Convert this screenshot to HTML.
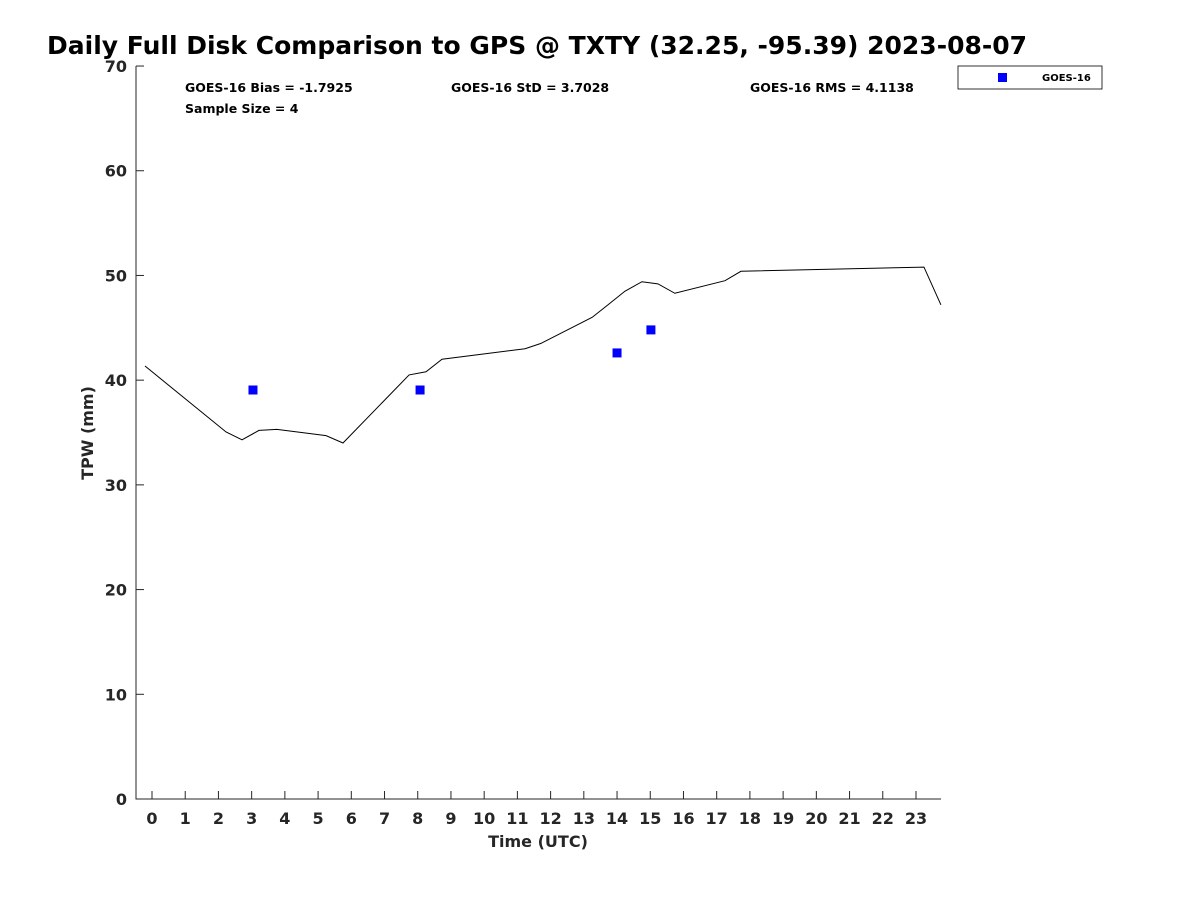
<!DOCTYPE html>
<html><head><meta charset="utf-8"><style>
body{margin:0;background:#fff;font-family:"Liberation Sans","DejaVu Sans",sans-serif}
svg text{font-family:"DejaVu Sans","Liberation Sans",sans-serif}
</style></head><body>
<svg id="chart" width="1200" height="900">
<text x="47" y="54" font-size="25" font-weight="bold">Daily Full Disk Comparison to GPS @ TXTY (32.25, -95.39) 2023-08-07</text>
<g id="axes"></g>
<g id="stats" font-size="12.5" font-weight="bold">
<text x="185" y="92">GOES-16 Bias = -1.7925</text>
<text x="451" y="92">GOES-16 StD = 3.7028</text>
<text x="750" y="92">GOES-16 RMS = 4.1138</text>
<text x="185" y="113">Sample Size = 4</text>
</g>
<g>
<rect x="958" y="66" width="144" height="23" fill="#fff" stroke="#000" stroke-width="0.8"/>
<rect x="998" y="73" width="9" height="9" fill="#0000ff"/>
<text x="1042" y="81" font-size="10" font-weight="bold">GOES-16</text>
</g>
<text transform="translate(93,433) rotate(-90)" text-anchor="middle" font-size="16" font-weight="bold" fill="#262626">TPW (mm)</text>
<text x="538" y="847" text-anchor="middle" font-size="16" font-weight="bold" fill="#262626">Time (UTC)</text>
</svg>
<script>
const gpsHours=[-0.21,2.23,2.71,3.22,3.76,5.24,5.75,7.74,8.25,8.73,11.23,11.7,13.25,13.73,14.24,14.75,15.23,15.74,17.25,17.73,23.24,23.75];
const gpsTpw=[41.35,35.05,34.3,35.2,35.3,34.7,34.0,40.5,40.8,42.0,43.0,43.5,46.0,47.2,48.5,49.4,49.2,48.3,49.5,50.4,50.8,47.2];
const goesHours=[3.04,8.07,14.0,15.02];
const goesTpw=[39.06,39.06,42.6,44.8];
const xTicks=[0,1,2,3,4,5,6,7,8,9,10,11,12,13,14,15,16,17,18,19,20,21,22,23];
const yTicks=[0,10,20,30,40,50,60,70];
const NS="http://www.w3.org/2000/svg";
const x=h=>152+h*33.217;
const y=v=>799-v*10.471;
const g=document.getElementById('axes');
function mk(t,a){const e=document.createElementNS(NS,t);for(const k in a)e.setAttribute(k,a[k]);g.appendChild(e);return e;}
let ax=mk('path',{d:'M136,66 V799 H941',fill:'none',stroke:'#262626','stroke-width':1});


xTicks.forEach(t=>{
 const l=mk('line',{x1:x(t),x2:x(t),y1:799,y2:791,stroke:'#262626'});
 
 
 const tx=mk('text',{x:x(t),y:824,'text-anchor':'middle','font-size':16,'font-weight':'bold',fill:'#262626'});
 tx.textContent=t;
 
 
});
yTicks.forEach(t=>{
 const l=mk('line',{x1:136,x2:144,y1:y(t),y2:y(t),stroke:'#262626'});
 
 
 const tx=mk('text',{x:127,y:y(t)+6,'text-anchor':'end','font-size':16,'font-weight':'bold',fill:'#262626'});
 tx.textContent=t;
 
 
});
const pl=mk('polyline',{points:gpsHours.map((h,i)=>x(h)+','+y(gpsTpw[i])).join(' '),fill:'none',stroke:'#000','stroke-width':1});


goesHours.forEach((h,i)=>{
 const r=mk('rect',{x:x(h)-4.5,y:y(goesTpw[i])-4.5,width:9,height:9,fill:'#0000ff'});
 
 
});
</script>
</body></html>
